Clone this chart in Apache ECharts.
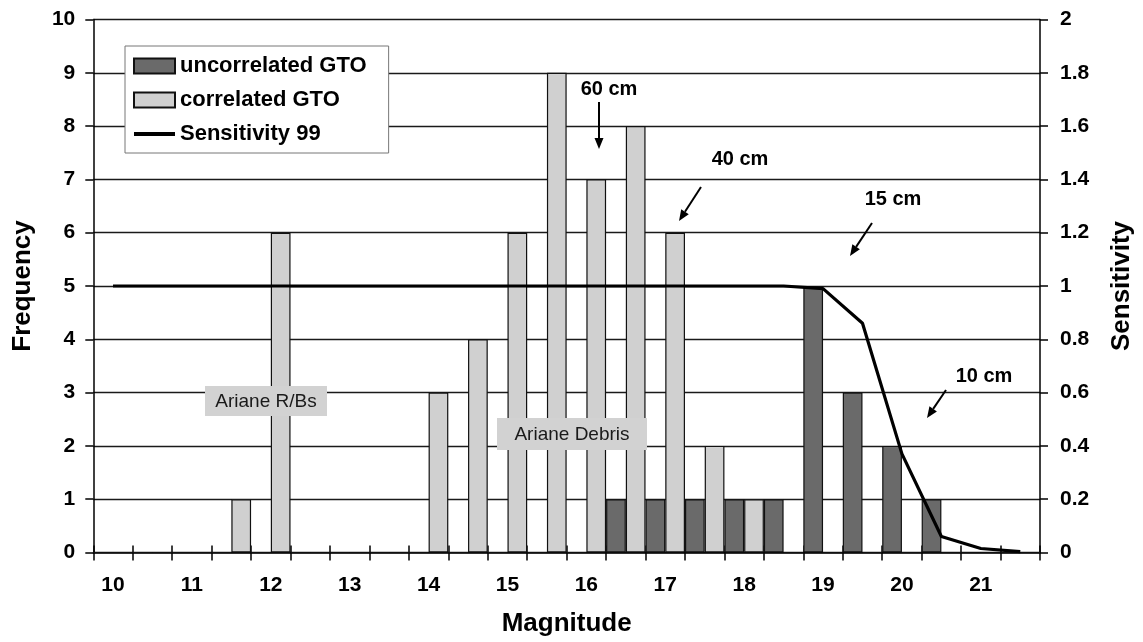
<!DOCTYPE html>
<html>
<head>
<meta charset="utf-8">
<script src="https://cdn.jsdelivr.net/npm/echarts@6/dist/echarts.min.js"></script>
<style>
  html, body { margin: 0; padding: 0; background: #fff; }
  #chart { width: 1143px; height: 642px; }
</style>
</head>
<body>
<div id="chart"></div>
<script>
// ---- data ----
const magnitudes = ['10','10.5','11','11.5','12','12.5','13','13.5','14','14.5','15','15.5',
                    '16','16.5','17','17.5','18','18.5','19','19.5','20','20.5','21','21.5'];
const uncorrelatedGTO = [0,0,0,0,0,0,0,0,0,0,0,0, 0,1,1,1,1,1,5,3,2,1,0,0];
const correlatedGTO   = [0,0,0,1,6,0,0,0,3,4,6,9, 7,8,6,2,1,0,0,0,0,0,0,0];
const sensitivity99   = [1,1,1,1,1,1,1,1,1,1,1,1, 1,1,1,1,1,1,0.99,0.86,0.37,0.06,0.015,0.003];

const FONT = "'Liberation Sans', Arial, Helvetica, sans-serif";
const chart = echarts.init(document.getElementById('chart'), null, { renderer: 'canvas' });

function arrow(x1, y1, x2, y2) {
  const a = Math.atan2(y2 - y1, x2 - x1);
  const L = 11, W = 4.5;
  const bx = x2 - L * Math.cos(a), by = y2 - L * Math.sin(a);
  const px = -Math.sin(a) * W, py = Math.cos(a) * W;
  return [
    { type: 'line', shape: { x1: x1, y1: y1, x2: bx, y2: by }, style: { stroke: '#000', lineWidth: 2 }, z: 100 },
    { type: 'polygon', shape: { points: [[x2, y2], [bx + px, by + py], [bx - px, by - py]] }, style: { fill: '#000' }, z: 100 }
  ];
}
function label(text, cx, cy) {
  return { type: 'text', x: cx, y: cy, z: 100,
    style: { text: text, font: 'bold 20px ' + FONT, fill: '#000', align: 'center', verticalAlign: 'middle' } };
}
function boxLabel(text, x, y, w, h) {
  return [
    { type: 'rect', shape: { x: x, y: y, width: w, height: h }, style: { fill: '#d2d2d2' }, z: 90 },
    { type: 'text', x: x + w / 2, y: y + h / 2 + 1, z: 91,
      style: { text: text, font: '19px ' + FONT, fill: '#1a1a1a', align: 'center', verticalAlign: 'middle' } }
  ];
}

const axisLabelStyle = { color: '#000', fontFamily: FONT, fontWeight: 'bold', fontSize: 21 };
const nameStyle = { color: '#000', fontFamily: FONT, fontWeight: 'bold', fontSize: 26 };

const option = {
  animation: false,
  backgroundColor: '#fff',
  grid: { left: 93.3, right: 100, top: 19.5, bottom: 89.5, containLabel: false },
  legend: {
    left: 125, top: 46, orient: 'vertical',
    backgroundColor: '#fff', borderColor: '#777', borderWidth: 1,
    padding: [9, 22, 8, 7],
    itemWidth: 41, itemHeight: 15, itemGap: 12,
    textStyle: { color: '#000', fontFamily: FONT, fontWeight: 'bold', fontSize: 22 },
    data: [
      { name: 'uncorrelated GTO', icon: 'rect' },
      { name: 'correlated GTO', icon: 'rect' },
      { name: 'Sensitivity 99', itemStyle: { opacity: 0 }, lineStyle: { width: 4, color: '#000' } }
    ],
    selectedMode: false
  },
  xAxis: [{
    type: 'category', data: magnitudes, boundaryGap: true,
    name: 'Magnitude', nameLocation: 'middle', nameGap: 58, nameTextStyle: nameStyle,
    axisLine: { lineStyle: { color: '#000', width: 1.5 } },
    axisTick: { show: true, interval: 0, length: 8, lineStyle: { color: '#000', width: 1.5 } },
    axisLabel: Object.assign({ interval: 1, margin: 22 }, axisLabelStyle),
    splitLine: { show: false }
  }, {
    type: 'category', data: magnitudes, boundaryGap: true, position: 'bottom',
    axisLine: { show: false },
    axisTick: { show: true, inside: true, interval: 0, length: 7, lineStyle: { color: '#000', width: 1.5 } },
    axisLabel: { show: false }, splitLine: { show: false }
  }],
  yAxis: [{
    type: 'value', min: 0, max: 10, interval: 1, position: 'left',
    name: 'Frequency', nameLocation: 'middle', nameRotate: 90, nameGap: 57, nameTextStyle: nameStyle,
    axisLine: { show: true, lineStyle: { color: '#000', width: 1.5 } },
    axisTick: { show: true, length: 8, lineStyle: { color: '#000', width: 1.5 } },
    axisLabel: Object.assign({ margin: 18 }, axisLabelStyle),
    splitLine: { show: true, lineStyle: { color: '#1a1a1a', width: 1.4 } }
  }, {
    type: 'value', min: 0, max: 2, interval: 0.2, position: 'right',
    name: 'Sensitivity', nameLocation: 'middle', nameRotate: 90, nameGap: 69, nameTextStyle: nameStyle,
    axisLine: { show: true, lineStyle: { color: '#000', width: 1.5 } },
    axisTick: { show: true, length: 8, lineStyle: { color: '#000', width: 1.5 } },
    axisLabel: Object.assign({ margin: 20, formatter: v => String(+v.toFixed(1)) }, axisLabelStyle),
    splitLine: { show: false }
  }],
  series: [{
    name: 'uncorrelated GTO', type: 'bar', xAxisIndex: 0, yAxisIndex: 0,
    data: uncorrelatedGTO, barGap: '0%', barCategoryGap: '0%',
    itemStyle: { color: '#6a6a6a', borderColor: '#111', borderWidth: 1.2 }
  }, {
    name: 'correlated GTO', type: 'bar', xAxisIndex: 0, yAxisIndex: 0,
    data: correlatedGTO, barGap: '0%', barCategoryGap: '0%',
    itemStyle: { color: '#d0d0d0', borderColor: '#111', borderWidth: 1.2 }
  }, {
    name: 'Sensitivity 99', type: 'line', xAxisIndex: 0, yAxisIndex: 1,
    data: sensitivity99, symbol: 'none', smooth: false,
    lineStyle: { color: '#000', width: 3.2 }, itemStyle: { color: '#000' }
  }],
  graphic: [].concat(
    boxLabel('Ariane R/Bs', 205, 386, 122, 30),
    boxLabel('Ariane Debris', 497, 418, 150, 32),
    label('60 cm', 609, 89), arrow(599, 102, 599, 149),
    label('40 cm', 740, 159), arrow(701, 187, 679, 221),
    label('15 cm', 893, 199), arrow(872, 223, 850, 256),
    label('10 cm', 984, 376), arrow(946, 390, 927, 418)
  )
};
chart.setOption(option);
</script>
</body>
</html>
